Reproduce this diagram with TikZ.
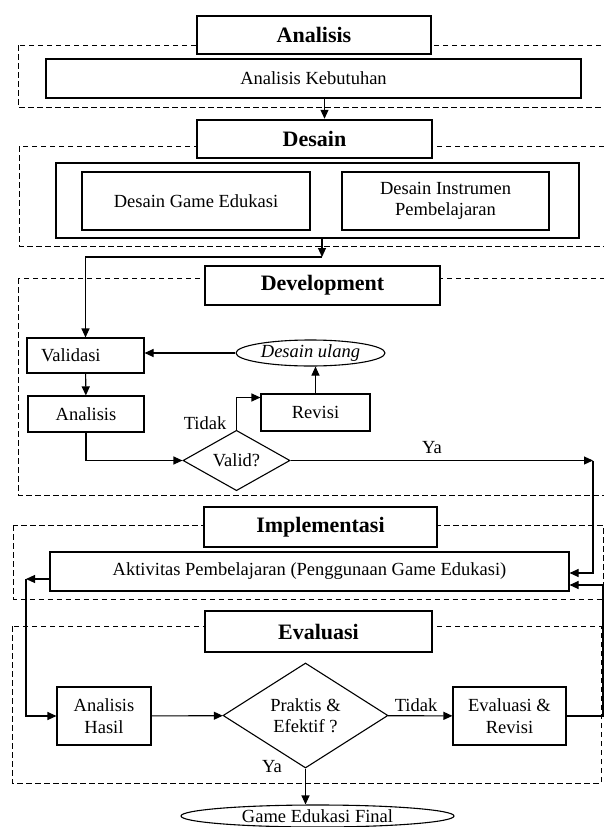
\documentclass[tikz,border=0pt]{standalone}
\usepackage{fontspec}
\setmainfont{Liberation Serif}
\usepackage{tikz}
\usetikzlibrary{arrows.meta,shapes.geometric}

\begin{document}
\begin{tikzpicture}[x=1pt,y=-1pt,
          phase/.style={draw,line width=1pt,dash pattern=on 5.5pt off 3.5pt},
          title/.style={draw,fill=white,line width=2.5pt,inner sep=0pt,
                        font=\fontsize{22}{25}\selectfont\bfseries},
          box/.style={draw,fill=white,line width=1.1pt,inner sep=0pt,align=center,
                      font=\fontsize{18.5}{21.5}\selectfont},
          decision/.style={box,diamond},
          terminal/.style={box,ellipse},
          lbl/.style={inner sep=0pt,font=\fontsize{18.5}{21.5}\selectfont},
          arr/.style={line width=1.1pt,-{Triangle[length=9pt,width=8pt]}}]
        \useasboundingbox (0,0) rectangle (604,827);
        \draw[phase] (18,45) rectangle (612,107);
        \draw[phase] (19,146) rectangle (612,246);
        \draw[phase] (18,278) rectangle (612,495);
        \draw[phase] (13.5,525) rectangle (603,599);
        \draw[phase] (12,626) rectangle (601,783);
        \node[title,minimum width=234pt,minimum height=38pt] (tAna) at (314,35) {Analisis};
        \node[box,minimum width=535pt,minimum height=39pt] (kebutuhan) at (313.5,78.5) {Analisis Kebutuhan};
        \node[title,minimum width=235pt,minimum height=38pt] (tDes) at (314.5,139) {Desain};
        \node[box,minimum width=523pt,minimum height=75pt] (desOuter) at (317.5,200.5) {};
        \node[box,minimum width=228pt,minimum height=58pt] (desGame) at (196,201) {Desain Game Edukasi};
        \node[box,minimum width=207pt,minimum height=58pt] (desInst) at (445.5,201) {Desain Instrumen\\Pembelajaran};
        \coordinate (dTurn) at (322,257);
        \node[title,minimum width=235pt,minimum height=39pt] (tDev) at (322.5,285.5) {Development};
        \node[box,minimum height=35pt,text width=89pt,align=left,inner xsep=14pt] (validasi) at (85.5,355.5) {Validasi};
        \node[box,minimum width=116pt,minimum height=36pt] (anaDev) at (86,414) {Analisis};
        \node[terminal,minimum width=149pt,minimum height=26pt,
              font=\fontsize{18.5}{21.5}\selectfont\itshape] (ulang) at (310.5,353) {Desain ulang};
        \node[box,minimum width=109pt,minimum height=37pt] (revisi) at (315.5,412.5) {Revisi};
        \node[decision,minimum width=107pt,minimum height=47pt] (valid) at (236.5,460.5) {Valid?};
        \node[lbl] (tidakDev) at (205,423) {Tidak};
        \node[lbl] (yaDev) at (432,448) {Ya};
        \coordinate (yaTurn) at (593,460.5);
        \node[title,minimum width=233pt,minimum height=40pt] (tImp) at (320.5,527) {Implementasi};
        \node[box,minimum width=519pt,minimum height=39pt] (aktivitas) at (309.5,571.5) {Aktivitas Pembelajaran (Penggunaan Game Edukasi)};
        \coordinate (aktTurn) at (26,579);
        \node[title,minimum width=227pt,minimum height=41pt] (tEva) at (318.5,631.5) {Evaluasi};
        \node[box,minimum width=94pt,minimum height=58pt] (hasil) at (104,716) {Analisis\\Hasil};
        \node[decision,minimum width=165pt,minimum height=85pt] (praktis) at (305.5,715.5) {Praktis \&\\Efektif ?};
        \node[box,minimum width=113pt,minimum height=58pt] (evaRev) at (509.5,716) {Evaluasi \&\\Revisi};
        \node[lbl] (tidakEva) at (416,705) {Tidak};
        \node[lbl] (yaEva) at (272,767) {Ya};
        \coordinate (evaTurn) at (603,716);
        \node[terminal,minimum width=273pt,minimum height=22pt] (final) at (317.5,816) {Game Edukasi Final};
        \draw[arr] ([xshift=11pt]kebutuhan.south) -- ([xshift=11pt]kebutuhan.south |- tDes.north);
        \draw[arr] ([xshift=4.5pt]desOuter.south) -- (dTurn);
        \draw[arr] (dTurn) -| (validasi.north);
        \draw[arr] (validasi) -- (anaDev);
        \draw[arr] (anaDev.south) |- (valid.west);
        \draw[arr] (valid.north) |- ([yshift=15pt]revisi.west);
        \draw[arr] (revisi.north) -- (revisi.north |- ulang.south);
        \draw[arr] (ulang.west) -- (ulang.west -| validasi.east);
        \draw[arr] (valid.east) -- (yaTurn);
        \draw[arr] (yaTurn) |- ([yshift=-1.5pt]aktivitas.east);
        \draw[arr] ([yshift=-7.5pt]aktivitas.west) -- (aktTurn);
        \draw[arr] (aktTurn) |- (hasil.west);
        \draw[arr] (hasil) -- (praktis);
        \draw[arr] (praktis) -- (evaRev);
        \draw[arr] (praktis.south) -- (praktis.south |- final.north);
        \draw[arr] (evaRev.east) -- (evaTurn) |- ([yshift=-13.5pt]aktivitas.east);
      \end{tikzpicture}
\end{document}
